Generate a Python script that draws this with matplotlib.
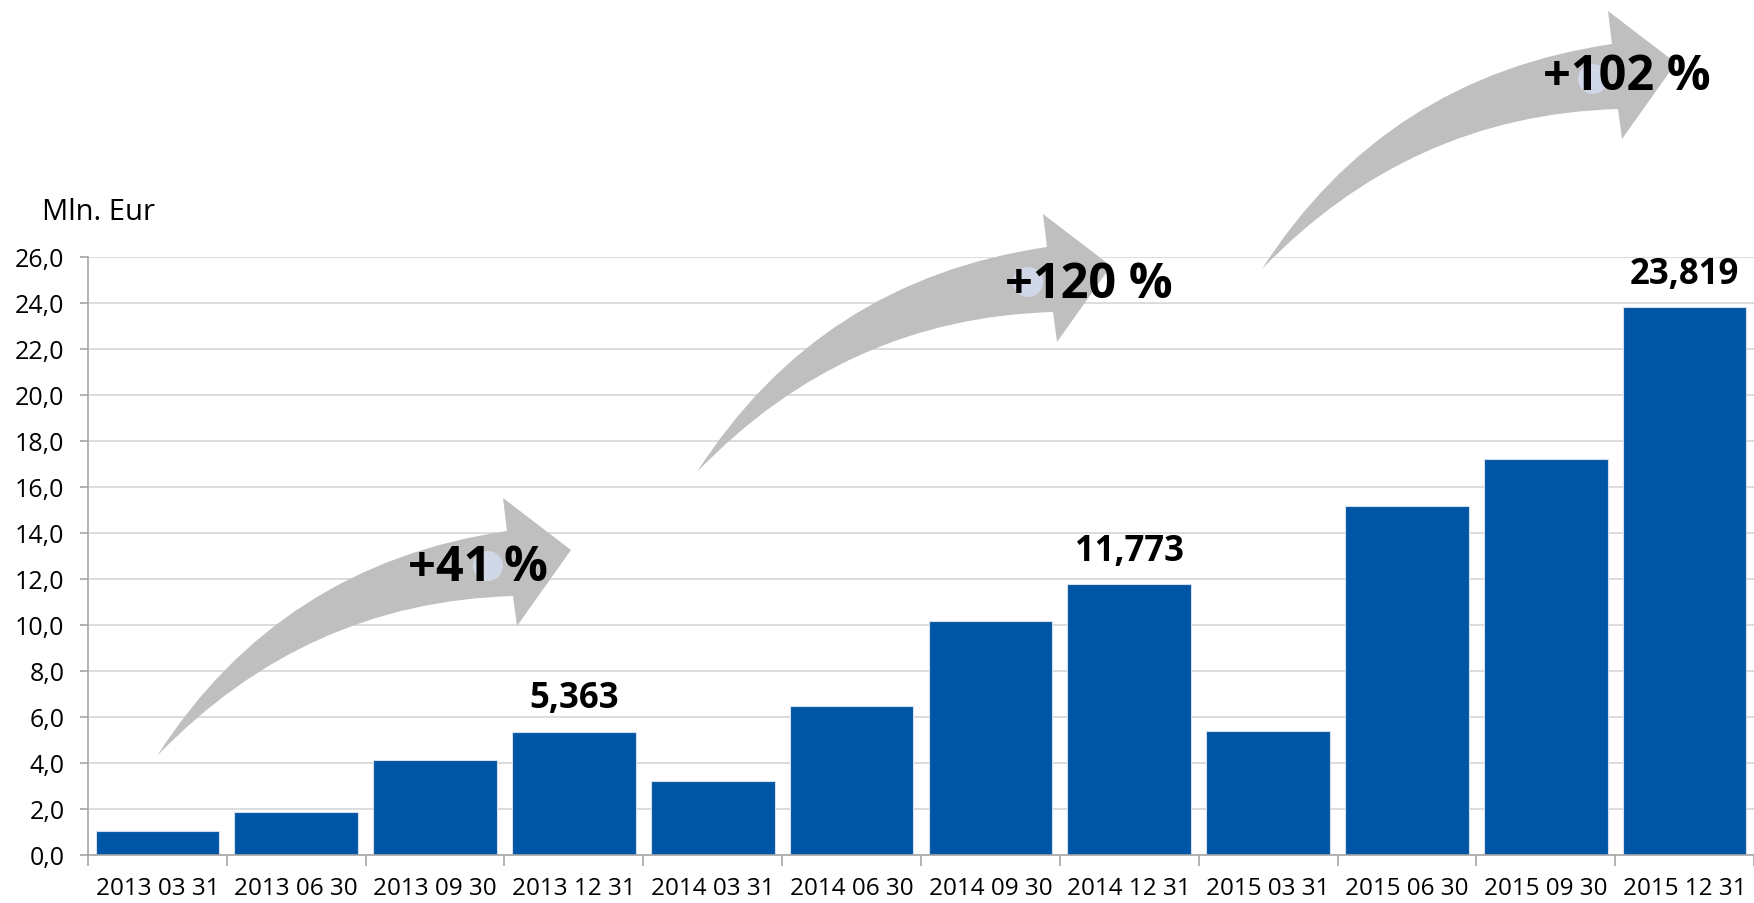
import numpy as np
import matplotlib.pyplot as plt
from matplotlib.path import Path
from matplotlib.patches import PathPatch, Circle
from matplotlib.transforms import Affine2D

# data
dates = ['2013 03 31', '2013 06 30', '2013 09 30', '2013 12 31',
         '2014 03 31', '2014 06 30', '2014 09 30', '2014 12 31',
         '2015 03 31', '2015 06 30', '2015 09 30', '2015 12 31']
values = [1.05, 1.85, 4.15, 5.363, 3.2, 6.46, 10.17, 11.773, 5.4, 15.17, 17.2, 23.819]
bar_labels = [None, None, None, '5,363', None, None, None, '11,773', None, None, None, '23,819']
growth = ['+41 %', '+120 %', '+102 %']

W, H = 1754, 904
plt.rcParams['font.family'] = ['Open Sans', 'DejaVu Sans']
fig = plt.figure(figsize=(W / 100, H / 100), dpi=100)
ax = fig.add_axes([88 / W, (H - 856) / H, (W - 88) / W, (856 - 258) / H])

x = np.arange(len(dates))
ax.bar(x, values, width=0.89, color='#0055A5', edgecolor='#D5DEEC', linewidth=0.8, zorder=2)

for i, lab in enumerate(bar_labels):
    if lab:
        ax.annotate(lab, (x[i], values[i]), xytext=(0, 11), textcoords='offset points',
                    ha='center', va='bottom', fontsize=25, fontweight='bold', color='black')

ax.set_xlim(-0.5, len(dates) - 0.5)
ax.set_ylim(0, 26)
ax.set_yticks(np.arange(0, 27, 2))
ax.set_yticklabels([f'{v:.1f}'.replace('.', ',') for v in np.arange(0, 27, 2)], fontsize=18)
ax.set_xticks(x)
ax.set_xticklabels(dates, fontsize=17.5)
ax.set_xticks(np.arange(-0.5, len(dates), 1), minor=True)
ax.tick_params(axis='x', which='major', length=0, pad=15)
ax.tick_params(axis='x', which='minor', length=8, color='#A6A6A6', width=1.2)
ax.tick_params(axis='y', length=6, color='#A6A6A6', width=1.2, pad=11)
ax.grid(axis='y', color='#D9D9D9', linewidth=1.3, zorder=0)
ax.set_axisbelow(True)
for s in ['top', 'right']:
    ax.spines[s].set_visible(False)
for s in ['left', 'bottom']:
    ax.spines[s].set_color('#A6A6A6')
    ax.spines[s].set_linewidth(1.2)

fig.text(99 / W, 1 - 212 / H, 'Mln. Eur', fontsize=21, ha='center', va='center')

# curved arrows, drawn in pixel space of the figure
px = Affine2D().scale(1 / W, -1 / H).translate(0, 1) + fig.transFigure

arrow_shape = [
    (Path.MOVETO, (157, 757)),
    (Path.CURVE3, (280, 565)),
    (Path.CURVE3, (507, 532)),
    (Path.LINETO, (503, 499)),
    (Path.LINETO, (571, 551)),
    (Path.LINETO, (517, 627)),
    (Path.LINETO, (513, 597)),
    (Path.CURVE3, (305, 603)),
    (Path.CURVE3, (157, 757)),
    (Path.CLOSEPOLY, (157, 757)),
]
offsets = [(0, 0), (540, -284), (1105, -487)]
text_pos = [(478, 569), (1089, 286), (1627, 78)]

for (dx, dy), txt, (tx, ty) in zip(offsets, growth, text_pos):
    codes = [c for c, _ in arrow_shape]
    verts = [(p[0] + dx, p[1] + dy) for _, p in arrow_shape]
    fig.patches.append(PathPatch(Path(verts, codes), facecolor='#BFBFBF', edgecolor='none',
                                 transform=px, zorder=3))
    fig.patches.append(Circle((488 + dx, 567 + dy), 15, facecolor='#D0D8E8', edgecolor='none',
                              transform=px, zorder=4))
    fig.text(tx, ty, txt, transform=px, fontsize=35, fontweight='bold', ha='center', va='center',
             zorder=5)

fig.savefig('out.png', dpi=100)
